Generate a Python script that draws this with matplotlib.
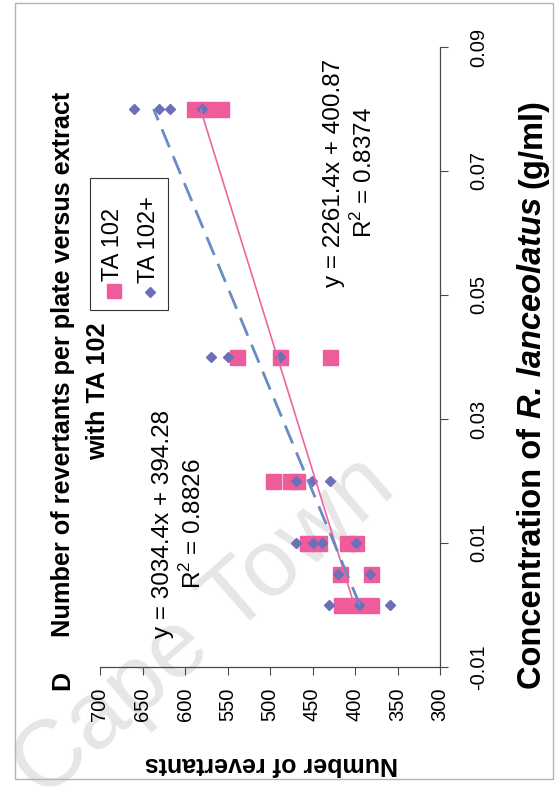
import matplotlib
matplotlib.use("Agg")
import matplotlib.pyplot as plt
from matplotlib.lines import Line2D
from matplotlib.patches import Rectangle
import numpy as np

# ---- data -------------------------------------------------------------
conc_ta102 = [0, 0, 0, 0.005, 0.005, 0.01, 0.01, 0.01, 0.01,
              0.02, 0.02, 0.02, 0.04, 0.04, 0.04, 0.08, 0.08, 0.08]
rev_ta102 = [417, 399, 381, 418, 381, 456, 442, 409, 399,
             497, 477, 468, 539, 488, 429, 589, 574, 558]

conc_ta102p = [0, 0, 0, 0.005, 0.005, 0.01, 0.01, 0.01, 0.01,
               0.02, 0.02, 0.02, 0.04, 0.04, 0.04, 0.08, 0.08, 0.08, 0.08]
rev_ta102p = [431, 395, 359, 420, 382, 469, 450, 439, 399,
              469, 451, 429, 570, 550, 488, 660, 631, 618, 580]

fit_ta102 = (2261.4, 400.87, 0.8374)    # slope, intercept, R^2
fit_ta102p = (3034.4, 394.28, 0.8826)

rev_ticks = [300, 350, 400, 450, 500, 550, 600, 650, 700]
conc_ticks = [-0.01, 0.01, 0.03, 0.05, 0.07, 0.09]
series_names = ["TA 102", "TA 102+"]

# ---- style ------------------------------------------------------------
W, H, DPI = 556, 787, 100
PINK = "#EE5C9C"
PINK_LINE = "#EE64A2"
BLUE_MK = "#6F6FB9"
BLUE_LINE = "#6A8AC6"
AXIS = "#4a4a4a"
FONT = "Liberation Sans"

plt.rcParams["font.family"] = [FONT, "DejaVu Sans"]
plt.rcParams["mathtext.fontset"] = "custom"
plt.rcParams["mathtext.rm"] = FONT


def fx(px):
    return px / W


def fy(py):
    return 1 - py / H


fig = plt.figure(figsize=(W / DPI, H / DPI), dpi=DPI)
fig.patch.set_facecolor("white")

# The chart is laid out turned a quarter-turn: revertants run along the
# horizontal axis (decreasing to the right), concentration runs upward.
ax = fig.add_axes([fx(100), fy(667), (440 - 100) / W, (667 - 47) / H])
ax.patch.set_alpha(0)
ax.set_xlim(700, 300)
ax.set_ylim(-0.01, 0.09)

for side in ("top", "left"):
    ax.spines[side].set_visible(False)
for side in ("bottom", "right"):
    ax.spines[side].set_color(AXIS)
    ax.spines[side].set_linewidth(0.9)

ax.set_xticks(rev_ticks)
ax.set_xticklabels([str(v) for v in rev_ticks], rotation=90)
ax.set_yticks(conc_ticks)
ax.set_yticklabels([f"{v:.2f}" for v in conc_ticks], rotation=90, va="center")
ax.yaxis.tick_right()
ax.tick_params(axis="x", direction="out", length=6, width=0.8, color=AXIS,
               pad=9, labelsize=14.5)
ax.tick_params(axis="y", direction="out", length=6, width=0.8, color=AXIS,
               pad=15, labelsize=14.5)

# markers
ax.plot(rev_ta102, conc_ta102, ls="none", marker="s", ms=10.8,
        mfc=PINK, mec=PINK, zorder=2)
ax.plot(rev_ta102p, conc_ta102p, ls="none", marker="D", ms=4.6,
        mfc=BLUE_MK, mec=BLUE_MK, zorder=3)

# linear trend lines from the stated equations
for conc, (m, b, _), col, ls, lw in (
        (conc_ta102, fit_ta102, PINK_LINE, "-", 1.2),
        (conc_ta102p, fit_ta102p, BLUE_LINE, (0, (7, 3.5)), 2.0)):
    cs = np.array([min(conc), max(conc)])
    ax.plot(m * cs + b, cs, color=col, ls=ls, lw=lw, zorder=4,
            solid_capstyle="butt")

# ---- texts ------------------------------------------------------------
fig.text(fx(63), fy(364), "Number of revertants per plate versus extract",
         rotation=90, ha="center", va="center",
         fontsize=18.2, fontweight="bold")
fig.text(fx(98), fy(391), "with TA 102",
         rotation=90, ha="center", va="center",
         fontsize=18.2, fontweight="bold")
fig.text(fx(62), fy(681), "D", rotation=90, ha="center", va="center",
         fontsize=19, fontweight="bold")

fig.text(fx(271), fy(764), "Number of revertants", rotation=180,
         ha="center", va="center", fontsize=18, fontweight="bold")

m, b, r2 = fit_ta102
fig.text(fx(350), fy(173), f"y = {m:.1f}x + {b:.2f}\nR$^2$ = {r2:.4f}",
         rotation=90, ha="center", va="center", multialignment="center",
         fontsize=17.5, linespacing=1.3)
m, b, r2 = fit_ta102p
fig.text(fx(179), fy(524), f"y = {m:.1f}x + {b:.2f}\nR$^2$ = {r2:.4f}",
         rotation=90, ha="center", va="center", multialignment="center",
         fontsize=17.5, linespacing=1.3)

# concentration axis title, built from upright and bold-italic pieces
renderer = fig.canvas.get_renderer()
pieces = [("Concentration of", "normal"), ("R. lanceolatus", "italic"),
          ("(g/ml)", "normal")]
conc_fs = 23.5
gap = conc_fs * 0.28 * DPI / 72
arts = []
for txt, style in pieces:
    t = fig.text(0, 0, txt, rotation=90, rotation_mode="anchor",
                 ha="left", va="baseline", fontsize=conc_fs,
                 fontweight="bold", fontstyle=style)
    arts.append(t)
lengths = [a.get_window_extent(renderer).height for a in arts]
total = sum(lengths) + gap * (len(arts) - 1)
ystart = (H - 394) - total / 2
for a, L in zip(arts, lengths):
    a.set_position((fx(541), ystart / H))
    ystart += L + gap

# legend drawn in the same turned orientation
fig.add_artist(Rectangle((fx(90), fy(310)), 78 / W, 132 / H,
                         transform=fig.transFigure, fill=False,
                         ec="#333333", lw=0.8))
fig.add_artist(Line2D([fx(114)], [fy(291)], marker="s", ms=10, ls="none",
                      mfc=PINK, mec=PINK, transform=fig.transFigure))
fig.add_artist(Line2D([fx(150)], [fy(292)], marker="D", ms=4.6, ls="none",
                      mfc=BLUE_MK, mec=BLUE_MK, transform=fig.transFigure))
fig.text(fx(113), fy(281), series_names[0], rotation=90, ha="center",
         va="bottom", fontsize=17)
fig.text(fx(149), fy(283), series_names[1], rotation=90, ha="center",
         va="bottom", fontsize=17)

# page frame and watermark
fig.add_artist(Rectangle((fx(15), fy(779)), (553 - 15) / W, (779 - 3) / H,
                         transform=fig.transFigure, fill=False,
                         ec="#b8b0b8", lw=1.0))
fig.text(fx(205), fy(628), "Cape Town", rotation=41, ha="center",
         va="center", fontsize=68, color="#e6e6e6", zorder=-1)

fig.savefig("out.png", dpi=DPI)
